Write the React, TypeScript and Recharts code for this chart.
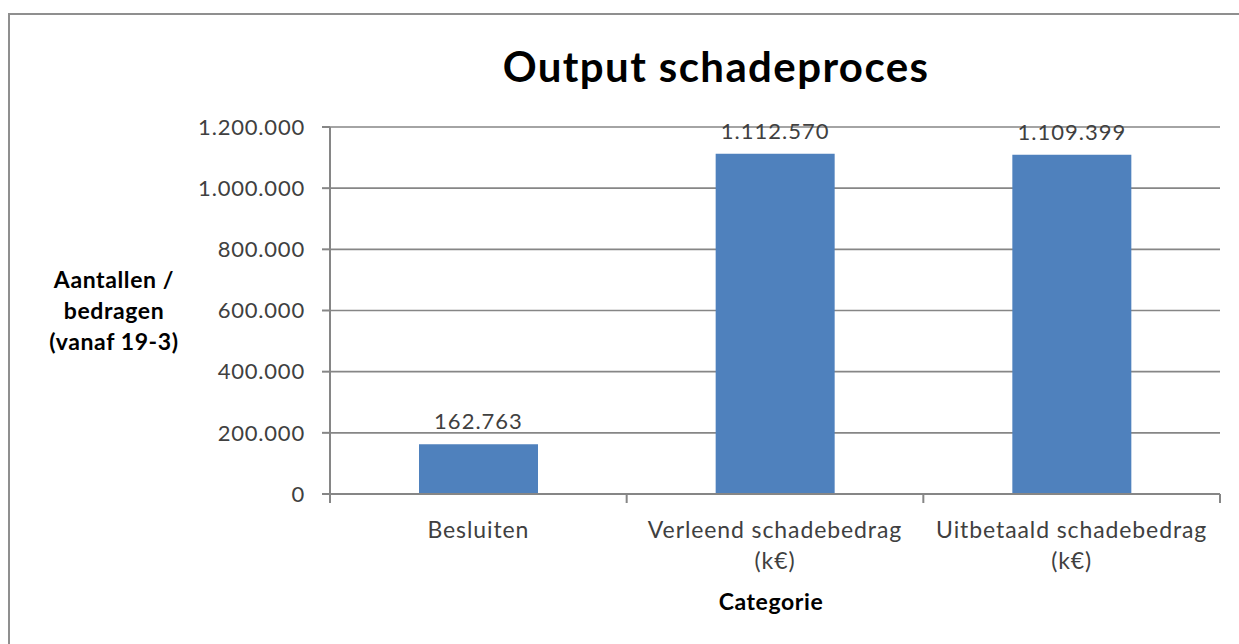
import React from 'react';
import { BarChart, Bar, XAxis, YAxis, CartesianGrid, LabelList, Customized } from 'recharts';

const categories = ['Besluiten', 'Verleend schadebedrag (k€)', 'Uitbetaald schadebedrag (k€)'];
const values = [162763, 1112570, 1109399];
const yTicks = [0, 200000, 400000, 600000, 800000, 1000000, 1200000];
const title = 'Output schadeproces';
const yTitleLines = ['Aantallen /', 'bedragen', '(vanaf 19-3)'];
const xTitle = 'Categorie';

const data = categories.map((c, i) => ({ name: c, value: values[i] }));

const fmt = (v: any) => String(Math.round(Number(v))).replace(/\B(?=(\d{3})+(?!\d))/g, '.');

const FONT = 'Lato, "Open Sans", sans-serif';
const GRID = '#868686';
const TEXT = '#404040';
const BAR = '#4F81BD';

const XTick = (props: any) => {
  const { x, y, payload, index, visibleTicksCount } = props;
  const label: string = String(payload.value);
  const k = label.lastIndexOf(' (');
  const lines = k > 0 ? [label.slice(0, k), label.slice(k + 1)] : [label];
  const off = payload.offset ?? 148.3;
  return (
    <g>
      <line x1={x - off} x2={x - off} y1={y} y2={y + 9} stroke={GRID} strokeWidth={2} />
      {index === visibleTicksCount - 1 && (
        <line x1={x + off} x2={x + off} y1={y} y2={y + 9} stroke={GRID} strokeWidth={2} />
      )}
      <text x={x} y={y + 44} textAnchor="middle" fontFamily={FONT} fontSize={23} letterSpacing={0.9} fill={TEXT}>
        {lines.map((l, i) => (
          <tspan key={i} x={x} dy={i === 0 ? 0 : 31}>
            {l}
          </tspan>
        ))}
      </text>
    </g>
  );
};

const YTitle = (props: any) => {
  const vb = props.viewBox || { x: 0, y: 127, width: 330, height: 367 };
  const cx = vb.x + 114;
  const midBase = vb.y + vb.height / 2 + 8;
  return (
    <text x={cx} y={midBase - 31} textAnchor="middle" fontFamily={FONT} fontSize={23} letterSpacing={0.6} fontWeight="bold" fill="#000">
      {yTitleLines.map((l, i) => (
        <tspan key={i} x={cx} dy={i === 0 ? 0 : 31}>
          {l}
        </tspan>
      ))}
    </text>
  );
};

const XTitle = (props: any) => {
  const vb = props.viewBox || { x: 330, y: 494, width: 890, height: 130 };
  return (
    <text x={vb.x + vb.width / 2 - 4} y={vb.y + 116} textAnchor="middle" fontFamily={FONT} fontSize={23} letterSpacing={0.6} fontWeight="bold" fill="#000">
      {xTitle}
    </text>
  );
};

const Title = () => (
  <text x={716} y={82} textAnchor="middle" fontFamily={FONT} fontSize={42} letterSpacing={1.4} fontWeight="bold" fill="#000">
    {title}
  </text>
);

export default function App() {
  return (
    <div style={{ position: 'absolute', left: 0, top: 0, width: 1239, height: 644, overflow: 'hidden', background: '#fff' }}>
      <div
        style={{
          position: 'absolute',
          left: 8,
          top: 13,
          width: 1300,
          height: 700,
          border: '2px solid #8f8f8f',
          boxSizing: 'border-box',
        }}
      />
      <div style={{ position: 'absolute', left: 0, top: 0 }}>
        <BarChart
          width={1239}
          height={644}
          data={data}
          margin={{ top: 127, right: 19, left: 0, bottom: 20 }}
          barCategoryGap="30%"
          style={{ fontFamily: FONT }}
        >
          <CartesianGrid vertical={false} stroke={GRID} strokeWidth={1.6} />
          <XAxis
            dataKey="name"
            height={130}
            tickSize={0}
            tickMargin={0}
            tickLine={false}
            axisLine={{ stroke: GRID, strokeWidth: 2 }}
            tick={<XTick />}
            interval={0}
            label={<XTitle />}
          />
          <YAxis
            width={330}
            domain={[0, 1200000]}
            ticks={yTicks}
            tickFormatter={fmt}
            tickSize={8}
            tickMargin={17}
            axisLine={{ stroke: GRID, strokeWidth: 2 }}
            tickLine={{ stroke: GRID, strokeWidth: 2 }}
            tick={{ fill: TEXT, fontSize: 22, fontFamily: FONT, letterSpacing: 0.8 }}
            label={<YTitle />}
          />
          <Bar dataKey="value" fill={BAR} isAnimationActive={false}>
            <LabelList dataKey="value" position="top" offset={15} formatter={fmt} fill={TEXT} fontSize={22} letterSpacing={1} fontFamily={FONT} />
          </Bar>
          <Customized component={Title} />
        </BarChart>
      </div>
    </div>
  );
}
